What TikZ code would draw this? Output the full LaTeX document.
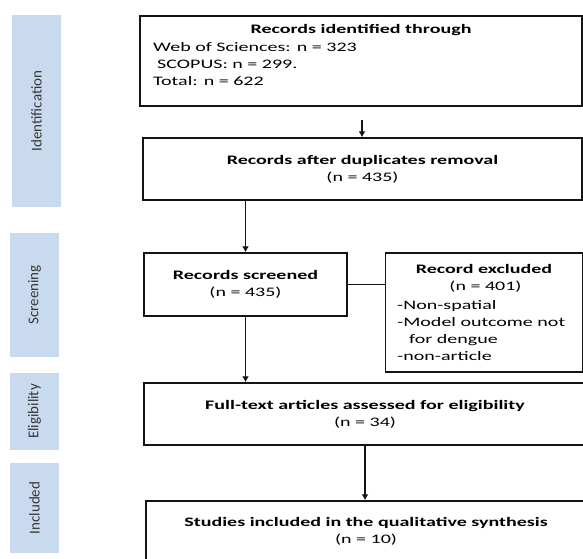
\documentclass[tikz,border=0pt]{standalone}
\usepackage{fontspec}
\setmainfont{Carlito}[FakeStretch=1.54]
\newfontfamily\sidefont{Carlito}
\usetikzlibrary{arrows.meta}
\definecolor{sidebg}{RGB}{201,218,239}
\definecolor{sidetxt}{RGB}{55,55,55}
\definecolor{linec}{RGB}{20,20,20}
\begin{document}
\begin{tikzpicture}[x=1pt,y=-1pt,
  box/.style={draw=linec, line width=1.5pt, inner sep=0pt, align=center,
              font=\fontsize{13}{17}\selectfont},
  txt/.style={inner sep=0pt, font=\fontsize{13}{17}\selectfont},
  side/.style={fill=sidebg, inner sep=0pt, text=sidetxt,
               font=\sidefont\fontsize{15}{18}\selectfont},
  arr/.style={draw=linec, line width=1.5pt, -{Latex[length=6pt,width=7pt]}},
  con/.style={draw=linec, line width=1.5pt}]
\path[use as bounding box, clip] (0,0) rectangle (583,558);
\fill[white] (0,0) rectangle (583,558);

% side bars
\node[side, minimum width=49pt, minimum height=192pt] (sId) at (36.5,111) {\rotatebox{90}{Identification}};
\node[side, minimum width=49pt, minimum height=124pt] (sSc) at (34.5,295) {\rotatebox{90}{Screening}};
\node[side, minimum width=49pt, minimum height=77pt] (sEl) at (34.5,411.5) {\rotatebox{90}{Eligibility}};
\node[side, minimum width=49pt, minimum height=90pt] (sIn) at (34.5,508) {\rotatebox{90}{Included}};

% boxes
\node[box, minimum width=442pt, minimum height=90pt] (B1) at (361,61) {};
\node[txt] (B1t) at (361,30) {\textbf{Records identified through}};
\node[txt, anchor=west, align=left] (B1l) at (153,64) {Web of Sciences: n = 323\\\hspace*{4pt}SCOPUS: n = 299.\\Total: n = 622};

\node[box, minimum width=439pt, minimum height=62pt] (B2) at (362.5,169)
  {\textbf{Records after duplicates removal}\\(n = 435)};

\node[box, minimum width=203pt, minimum height=63pt] (B3) at (245.5,284.5)
  {\textbf{Records screened}\\(n = 435)};

\node[box, minimum width=197.5pt, minimum height=119pt] (B4) at (484,312.5) {};
\node[txt, align=center] (B4t) at (484,278.5) {\textbf{Record excluded}\\\hspace*{3pt}(n = 401)};
\node[txt, anchor=west, align=left] (B4l) at (397,331)
  {-Non-spatial\\-Model outcome not\\\hspace*{12pt}for dengue\\-non-article};

\node[box, minimum width=442pt, minimum height=62pt] (B5) at (365,414)
  {\textbf{Full-text articles assessed for eligibility}\\(n = 34)};

\node[box, minimum width=440pt, minimum height=61pt] (B6) at (366,531.5)
  {\textbf{Studies included in the qualitative synthesis}\\(n = 10)};

% connectors
\coordinate (c1) at (362,120);
\draw[arr] (c1) -- (c1 |- B2.north);
\draw[arr] (B3.north |- B2.south) -- (B3.north);
\draw[arr] (B3.south) -- (B3.south |- B5.north);
\draw[con] (B3.east) -- (B3.east -| B4.west);
\draw[arr] (B5.south) -- (B5.south |- B6.north);
\end{tikzpicture}
\end{document}
